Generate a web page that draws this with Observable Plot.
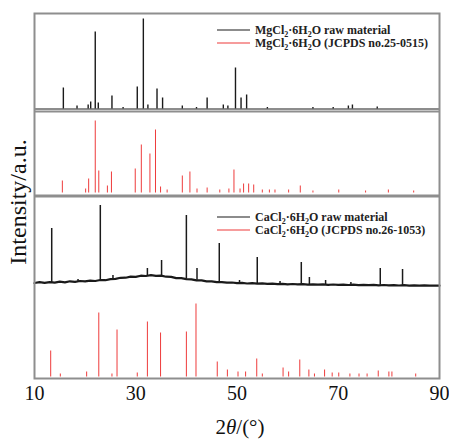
<!DOCTYPE html>
<html><head><meta charset="utf-8">
<script src="https://cdn.jsdelivr.net/npm/d3@7"></script>
<script src="https://cdn.jsdelivr.net/npm/@observablehq/plot@0.6"></script>
<style>
body{margin:0;background:#fff;}
#chart{width:449px;height:440px;}
</style></head><body><div id="chart"></div>
<script>
// x tick labels (2θ, degrees)
const xTicks = [10, 30, 50, 70, 90];

// MgCl2·6H2O raw material: [2θ, intensity]
const mgRawPeaks = [[15.7,21],[18.4,3],[20.6,4],[21.1,7],[22.0,77],[22.6,6],[25.3,13],[27.5,1.5],[30.3,22],[31.5,90],[32.4,4],[34.2,20],[35.3,11],[39.2,3],[42.0,1.5],[44.1,11],[47.3,4],[48.2,3],[49.7,41],[50.8,11],[51.9,14],[56.0,1.5],[65.0,1.5],[69.0,1.5],[72.0,3],[72.8,4],[77.7,2]];

// MgCl2·6H2O JCPDS no.25-0515: [2θ, intensity]
const mgRefPeaks = [[15.5,12],[20.1,4],[20.7,14],[22.0,72],[22.7,22],[24.4,7],[25.2,21],[29.9,24],[31.1,48],[32.8,39],[33.9,63],[34.9,6],[36.2,3],[39.2,17],[40.7,21],[42.1,4],[44.1,5],[46.6,3],[48.4,4],[49.4,23],[50.6,4],[51.3,9],[52.3,9],[53.3,8],[55.0,3],[56.4,3],[57.5,3],[60.2,3],[62.5,7],[65.0,2],[70.1,3],[75.4,2],[79.9,3],[84.9,2]];

// CaCl2·6H2O raw material background: [2θ, intensity]
const caBackground = [[10,3.5],[11,4.3],[12,3.6],[13,4.4],[14,3.9],[15,4.8],[16,4.1],[17,5.2],[18,4.6],[19,5.5],[20,5.2],[21,5.9],[22,5.5],[23,6.5],[24,6.3],[25,7.4],[26,7.6],[27,8.7],[28,8.8],[29,9.9],[30,9.6],[31,10.8],[32,10.5],[33,11.3],[34,10.6],[35,10.9],[36,9.8],[37,9.6],[38,8.4],[39,8.3],[40,7.3],[41,7.2],[42,6.2],[43,6.2],[44,5.2],[45,5.2],[46,4.4],[47,4.4],[48,3.8],[49,4.0],[50,3.3],[51,3.6],[52,3.0],[53,3.3],[54,2.8],[55,3.1],[56,2.6],[57,2.9],[58,2.4],[59,2.7],[60,2.2],[61,2.5],[62,2.1],[63,2.4],[64,1.9],[65,2.2],[66,1.8],[67,2.1],[68,1.7],[69,2.0],[70,1.6],[71,1.9],[72,1.5],[73,1.8],[74,1.4],[75,1.7],[76,1.3],[77,1.6],[78,1.2],[79,1.5],[80,1.1],[81,1.4],[82,1.0],[83,1.3],[84,0.9],[85,1.2],[86,0.8],[87,1.1],[88,0.8],[89,1.0],[90,0.8]];

// CaCl2·6H2O raw material peaks: [2θ, local background, peak top]
const caRawPeaks = [[13.4,4.0,58],[18.6,4.8,7],[23.0,6.3,81],[25.5,7.2,11],[32.3,10.5,18],[35.1,10.9,26],[40.0,7.3,71],[42.1,6.3,18],[46.5,4.4,43],[50.5,3.4,6],[54.0,2.8,29],[58.5,2.5,5],[62.7,2.2,24],[64.3,1.9,9],[67.5,1.9,6],[72.5,1.6,4],[78.3,1.3,18],[82.7,1.1,17]];

// CaCl2·6H2O JCPDS no.26-1053: [2θ, intensity]
const caRefPeaks = [[13.2,26],[15.1,3],[20.3,5],[22.7,64],[25.3,3],[26.3,47],[30.3,4],[32.3,55],[34.9,44],[40.0,45],[41.9,73],[46.1,15],[48.1,7],[50.2,5],[51.7,5],[53.9,18],[55.0,3],[59.1,9],[60.2,5],[62.4,17],[64.2,7],[65.3,3],[67.3,7],[68.8,4],[70.1,4],[72.3,3],[74.1,3],[75.7,3],[77.9,6],[80.0,5],[80.6,5],[85.3,3]];

// legend texts
const mgLegend = [["MgCl","2","·6H","2","O raw material"],["MgCl","2","·6H","2","O (JCPDS no.25-0515)"]];
const caLegend = [["CaCl","2","·6H","2","O raw material"],["CaCl","2","·6H","2","O (JCPDS no.26-1053)"]];
const seriesColors = ["#1a1a1a", "#ee3b3b"];

const FRAME = "#8e8e8e";
const base = {mgRaw: 269.5, mgRef: 185.5, caRaw: 92, caRef: 1.5};
const serif = "Liberation Serif, Times New Roman, DejaVu Serif, serif";

const chart = Plot.plot({
  width: 449, height: 440,
  marginLeft: 34, marginRight: 10, marginTop: 13, marginBottom: 62,
  style: {fontFamily: serif, fontSize: "20px", color: "#111", background: "#fff"},
  x: {domain: [10, 90], ticks: xTicks, tickSize: 0, tickPadding: 7, label: null, tickFormat: d => d},
  y: {domain: [0, 365], axis: null},
  marks: [
    // MgCl2 raw
    Plot.ruleY([base.mgRaw], {stroke: seriesColors[0], strokeWidth: 1}),
    Plot.ruleX(mgRawPeaks, {x: d => d[0], y1: base.mgRaw, y2: d => base.mgRaw + d[1], stroke: seriesColors[0], strokeWidth: 1.4}),
    Plot.ruleY([267], {stroke: FRAME, strokeWidth: 2}),
    // MgCl2 JCPDS
    Plot.ruleX(mgRefPeaks, {x: d => d[0], y1: base.mgRef, y2: d => base.mgRef + d[1], stroke: seriesColors[1], strokeWidth: 1}),
    Plot.ruleY([182.5], {stroke: FRAME, strokeWidth: 3}),
    // CaCl2 raw
    Plot.ruleX(caRawPeaks, {x: d => d[0], y1: d => base.caRaw + d[1], y2: d => base.caRaw + d[2], stroke: seriesColors[0], strokeWidth: 1.5}),
    Plot.line(caBackground, {x: d => d[0], y: d => base.caRaw + d[1], stroke: seriesColors[0], strokeWidth: 2.2, curve: "linear"}),
    // CaCl2 JCPDS
    Plot.ruleX(caRefPeaks, {x: d => d[0], y1: base.caRef, y2: d => base.caRef + d[1], stroke: seriesColors[1], strokeWidth: 1}),
    Plot.frame({stroke: FRAME, strokeWidth: 2})
  ]
});
document.getElementById("chart").appendChild(chart);

const svg = d3.select(chart);
function legend(rows, y0) {
  rows.forEach((parts, i) => {
    const y = y0 + i * 13;
    svg.append("line").attr("x1", 217).attr("x2", 250).attr("y1", y - 4).attr("y2", y - 4)
      .attr("stroke", seriesColors[i]).attr("stroke-width", 1.2);
    const t = svg.append("text").attr("x", 255).attr("y", y).attr("text-anchor", "start")
      .attr("font-family", serif).attr("font-size", 12).attr("font-weight", "bold").attr("fill", "#222");
    parts.forEach((p, k) => {
      const sub = k % 2 === 1;
      t.append("tspan").attr("dy", sub ? 2.5 : (k === 0 ? 0 : -2.5)).attr("font-size", sub ? 8 : 12).text(p);
    });
  });
}
legend(mgLegend, 34);
legend(caLegend, 221);

// axis titles
const xt = svg.append("text").attr("x", 240).attr("y", 434).attr("text-anchor", "middle")
  .attr("font-family", serif).attr("font-size", 21).attr("fill", "#111");
xt.append("tspan").text("2");
xt.append("tspan").attr("font-style", "italic").text("θ");
xt.append("tspan").text("/(°)");

svg.append("text").attr("transform", "translate(26,202) rotate(-90)").attr("text-anchor", "middle")
  .attr("font-family", serif).attr("font-size", 24).attr("fill", "#111").text("Intensity/a.u.");
</script></body></html>
